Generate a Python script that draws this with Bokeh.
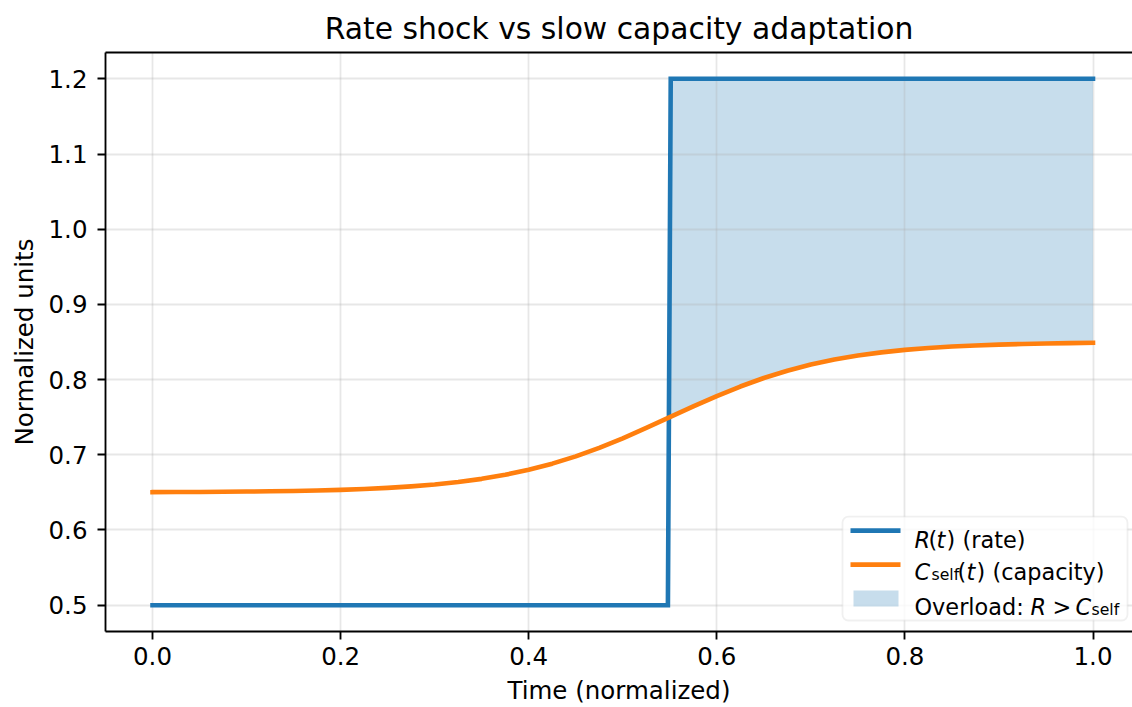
import numpy as np
from bokeh.plotting import figure
from bokeh.models import (Range1d, FixedTicker, PrintfTickFormatter, BoxAnnotation,
                          Label, LinearAxis)
from bokeh.embed import file_html
from bokeh.resources import INLINE

# --- data -------------------------------------------------------------------
# arrival rate: step shock
t_rate = [0.0, 0.548, 0.551, 1.0]
rate = [0.5, 0.5, 1.2, 1.2]

# self capacity: slow adaptation toward the new level
t_cap = [0.000, 0.025, 0.050, 0.075, 0.100, 0.125, 0.150, 0.175, 0.200, 0.225,
         0.250, 0.275, 0.300, 0.325, 0.350, 0.375, 0.400, 0.425, 0.450, 0.475,
         0.500, 0.525, 0.550, 0.575, 0.600, 0.625, 0.650, 0.675, 0.700, 0.725,
         0.750, 0.775, 0.800, 0.825, 0.850, 0.875, 0.900, 0.925, 0.950, 0.975,
         1.000]
capacity = [0.6503, 0.6505, 0.6506, 0.6508, 0.6511, 0.6515, 0.6519, 0.6526, 0.6534, 0.6546,
            0.6560, 0.6580, 0.6605, 0.6638, 0.6680, 0.6734, 0.6800, 0.6882, 0.6979, 0.7092,
            0.7219, 0.7357, 0.7500, 0.7643, 0.7781, 0.7908, 0.8021, 0.8118, 0.8200, 0.8266,
            0.8320, 0.8362, 0.8395, 0.8420, 0.8440, 0.8454, 0.8465, 0.8474, 0.8481, 0.8485,
            0.8489]

x_ticks = [0.0, 0.2, 0.4, 0.6, 0.8, 1.0]
y_ticks = [0.5, 0.6, 0.7, 0.8, 0.9, 1.0, 1.1, 1.2]

title_text = "Rate shock vs slow capacity adaptation"
x_label = "Time (normalized)"
y_label = "Normalized units"

BLUE = "#1f77b4"
ORANGE = "#ff7f0e"
FONT = "DejaVu Sans"
TICK_SIZE = "24.5px"
LEG = 22.4
SUB = 15.7

# --- layout ------------------------------------------------------------------
W, H = 1132, 707
L, T, B = 105, 52, 75
X0, X1 = -0.05, 1.042
Y0, Y1 = 0.465, 1.235
FW, FH = W - L, H - T - B


def px2x(px):
    return X0 + (px - L) * (X1 - X0) / FW


def py2y(py):
    return Y1 - (py - T) * (Y1 - Y0) / FH


p = figure(width=W, height=H, x_range=Range1d(X0, X1), y_range=Range1d(Y0, Y1),
           output_backend="svg", toolbar_location=None,
           min_border_left=L, min_border_right=0, min_border_top=T, min_border_bottom=B,
           title=title_text)
p.outline_line_color = None
p.background_fill_color = "white"
p.border_fill_color = "white"

p.title.text_font = FONT
p.title.text_font_size = "29.8px"
p.title.text_font_style = "normal"
p.title.align = "center"
p.title.text_color = "black"
p.title.standoff = 14

for ax in (p.xaxis[0], p.yaxis[0]):
    ax.axis_line_width = 1.85
    ax.axis_line_color = "black"
    ax.major_tick_line_width = 1.85
    ax.major_tick_line_color = "black"
    ax.major_tick_out = 8
    ax.major_tick_in = 0
    ax.minor_tick_line_color = None
    ax.major_label_text_font = FONT
    ax.major_label_text_font_size = TICK_SIZE
    ax.major_label_text_color = "black"
    ax.axis_label_text_font = FONT
    ax.axis_label_text_font_size = TICK_SIZE
    ax.axis_label_text_font_style = "normal"
    ax.axis_label_text_color = "black"
    ax.formatter = PrintfTickFormatter(format="%.1f")

p.xaxis[0].ticker = FixedTicker(ticks=x_ticks)
p.yaxis[0].ticker = FixedTicker(ticks=y_ticks)
p.xaxis[0].axis_label = x_label
p.yaxis[0].axis_label = y_label
p.xaxis[0].major_label_standoff = 7
p.yaxis[0].major_label_standoff = 10
p.xaxis[0].axis_label_standoff = 8
p.yaxis[0].axis_label_standoff = 7

# top spine
top = LinearAxis(ticker=FixedTicker(ticks=[]), axis_line_width=1.85, axis_line_color="black",
                 major_tick_line_color=None, minor_tick_line_color=None,
                 major_label_text_font_size="0px")
p.add_layout(top, "above")

for g, tk in ((p.xgrid[0], x_ticks), (p.ygrid[0], y_ticks)):
    g.ticker = FixedTicker(ticks=tk)
    g.grid_line_color = "#b0b0b0"
    g.grid_line_alpha = 0.3
    g.grid_line_width = 1.8

# --- overload region (R above C) -------------------------------------------
t_on = t_rate[2]
t_cap_a = np.asarray(t_cap)
cap_a = np.asarray(capacity)
mask = t_cap_a > t_on
shade_t = np.concatenate([[t_on], t_cap_a[mask]])
shade_c = np.concatenate([[np.interp(t_on, t_cap_a, cap_a)], cap_a[mask]])
shade_r = np.interp(shade_t, t_rate, rate)
p.varea(x=shade_t, y1=shade_c, y2=shade_r, fill_color=BLUE, fill_alpha=0.25, level="image")

# --- series -------------------------------------------------------------------
p.line(t_rate, rate, line_color=BLUE, line_width=4.6, line_join="miter", line_cap="square")
p.line(t_cap, capacity, line_color=ORANGE, line_width=4.6, line_join="round", line_cap="square")

# --- legend ---------------------------------------------------------------------
p.add_layout(BoxAnnotation(left=px2x(842), right=px2x(1127), top=py2y(517), bottom=py2y(621),
                           fill_color="white", fill_alpha=0.8, line_color="#cccccc",
                           line_width=1.8, border_radius=6, level="annotation"))
p.line([px2x(850), px2x(900)], [py2y(531), py2y(531)], line_color=BLUE, line_width=4.6,
       level="overlay")
p.line([px2x(850), px2x(900)], [py2y(565), py2y(565)], line_color=ORANGE, line_width=4.6,
       level="overlay")
p.add_layout(BoxAnnotation(left=px2x(853), right=px2x(898), top=py2y(591), bottom=py2y(607),
                           fill_color=BLUE, fill_alpha=0.25, line_color=None, level="overlay"))


def piece(txt, px, py, size=LEG, style="normal"):
    p.add_layout(Label(x=px2x(px), y=py2y(py), text=txt, text_font=FONT,
                       text_font_size=f"{size}px", text_font_style=style,
                       text_color="black", text_baseline="alphabetic", text_align="left",
                       level="overlay"))


# R(t) (rate)
piece("R", 914, 540, style="italic")
piece("(", 928, 540)
piece("t", 936, 540, style="italic")
piece(")", 946, 540)
piece("(rate)", 962, 540)
# C_self(t) (capacity)
piece("C", 914, 572, style="italic")
piece("self", 931, 575, size=SUB)
piece("(", 957, 572)
piece("t", 966, 572, style="italic")
piece(")", 976, 572)
piece("(capacity)", 992, 572)
# Overload: R > C_self
piece("Overload:", 914, 607)
piece("R", 1030, 607, style="italic")
piece(">", 1052, 607)
piece("C", 1075, 607, style="italic")
piece("self", 1091, 610, size=SUB)

open("out.html", "w").write(file_html(p, INLINE))
